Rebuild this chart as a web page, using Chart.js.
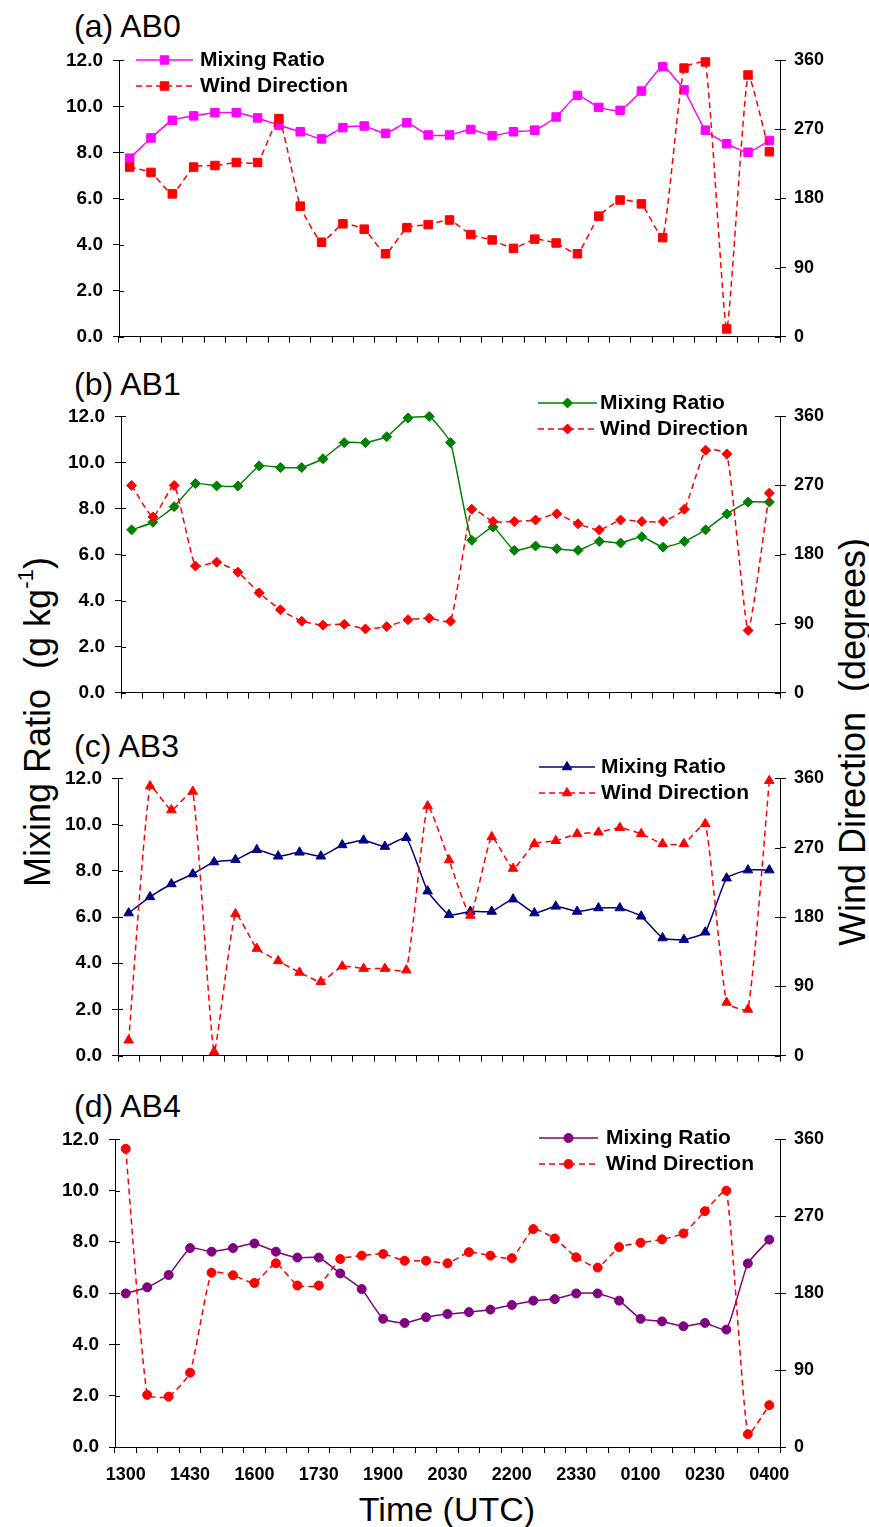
<!DOCTYPE html>
<html>
<head>
<meta charset="utf-8">
<script src="https://cdn.jsdelivr.net/npm/chart.js@4.4.0/dist/chart.umd.min.js"></script>
<style>
body { margin: 0; background: #fff; }
#page { position: relative; width: 869px; height: 1527px; overflow: hidden; font-family: "Liberation Sans", Arial, sans-serif; color: #000; }
#page canvas { position: absolute; left: 0; }
.ptitle { position: absolute; font-size: 32px; line-height: 32px; white-space: nowrap; }
.rtitle { position: absolute; font-size: 36px; line-height: 36px; white-space: nowrap; transform: translate(-50%, -50%) rotate(-90deg); }
.xtitle { position: absolute; font-size: 34px; line-height: 34px; white-space: nowrap; transform: translateX(-50%); }
sup { font-size: 0.62em; vertical-align: 0.75em; line-height: 0; }
</style>
</head>
<body>
<div id="page">
  <div class="ptitle" style="left:74px; top:10px;">(a) AB0</div>
  <div class="ptitle" style="left:74px; top:368px;">(b) AB1</div>
  <div class="ptitle" style="left:74px; top:730px;">(c) AB3</div>
  <div class="ptitle" style="left:74px; top:1090px;">(d) AB4</div>
  <div class="rtitle" style="left:38px; top:722px;">Mixing Ratio&nbsp; (g kg<sup>-1</sup>)</div>
  <div class="rtitle" style="left:853px; top:742px;">Wind Direction&nbsp; (degrees)</div>
  <div class="xtitle" style="left:447px; top:1492px;">Time (UTC)</div>
</div>
<script>
// 时间轴（每30分钟）
const timeLabels = ['1300','1330','1400','1430','1500','1530','1600','1630','1700','1730','1800',
  '1830','1900','1930','2000','2030','2100','2130','2200','2230','2300','2330','0000','0030',
  '0100','0130','0200','0230','0300','0330','0400'];
const xTickLabels = ['1300','1430','1600','1730','1900','2030','2200','2330','0100','0230','0400'];

// (a) AB0
const mixAB0 = [7.75, 8.63, 9.4, 9.59, 9.73, 9.73, 9.5, 9.18, 8.9, 8.59, 9.08, 9.15, 8.83, 9.29, 8.76, 8.76,
  9.0, 8.73, 8.9, 8.97, 9.54, 10.48, 9.96, 9.83, 10.67, 11.73, 10.72, 8.97, 8.38, 8.01, 8.52];
const windAB0 = [221, 214, 186, 221, 223, 227, 227, 284, 170, 123, 147, 140, 108, 142, 146, 152,
  133, 126, 115, 127, 122, 108, 157, 178, 173, 129, 350, 358, 10, 341, 241];

// (b) AB1
const mixAB1 = [7.07, 7.4, 8.08, 9.08, 8.98, 8.98, 9.85, 9.78, 9.78, 10.16, 10.86, 10.86, 11.12, 11.93, 12.0, 10.86,
  6.62, 7.19, 6.18, 6.37, 6.25, 6.18, 6.57, 6.5, 6.77, 6.32, 6.57, 7.07, 7.76, 8.28, 8.28];
const windAB1 = [270, 229, 270, 165, 170, 157, 130, 108, 93, 88, 89, 83, 86, 95, 97, 93,
  239, 223, 223, 225, 233, 220, 212, 225, 223, 223, 239, 316, 311, 81, 260];

// (c) AB3
const mixAB3 = [6.17, 6.87, 7.43, 7.86, 8.38, 8.48, 8.91, 8.63, 8.8, 8.63, 9.12, 9.32, 9.05, 9.43, 7.12, 6.1,
  6.24, 6.24, 6.77, 6.17, 6.46, 6.24, 6.39, 6.39, 6.03, 5.09, 5.02, 5.34, 7.68, 8.03, 8.03];
const windAB3 = [20, 350, 319, 343, 5, 184, 139, 123, 108, 96, 116, 113, 113, 111, 324, 254,
  182, 284, 243, 275, 279, 288, 290, 296, 288, 275, 275, 301, 69, 60, 357];

// (d) AB4
const mixAB4 = [5.99, 6.23, 6.71, 7.76, 7.62, 7.76, 7.94, 7.62, 7.39, 7.39, 6.77, 6.16, 5.0, 4.84, 5.06, 5.19,
  5.26, 5.36, 5.54, 5.71, 5.77, 5.99, 5.99, 5.71, 5.0, 4.9, 4.71, 4.84, 4.58, 7.16, 8.09];
const windAB4 = [349, 61, 59, 87, 204, 201, 192, 215, 189, 189, 220, 224, 226, 218, 218, 215,
  228, 224, 221, 255, 244, 222, 210, 234, 239, 243, 250, 276, 300, 15, 49];

Chart.defaults.font.family = '"Liberation Sans", Arial, sans-serif';
Chart.defaults.color = '#000';

const PAD_TOP = 20;
const RIGHT_W = 89;

// 坐标轴两侧的刻度线（向图内延伸）
const crossTicks = {
  id: 'crossTicks',
  beforeDatasetsDraw(chart) {
    const ctx = chart.ctx;
    const area = chart.chartArea;
    ctx.save();
    ctx.strokeStyle = '#000';
    ctx.lineWidth = 1;
    [['y', area.left, 1], ['y1', area.right, -1]].forEach(([id, ax, dir]) => {
      const s = chart.scales[id];
      s.ticks.forEach(t => {
        const py = Math.round(s.getPixelForValue(t.value)) + 0.5;
        ctx.beginPath();
        ctx.moveTo(ax, py);
        ctx.lineTo(ax + dir * 5, py);
        ctx.stroke();
      });
    });
    ctx.restore();
  }
};

// Excel 风格图例：线段 + 标记 + 文字
const panelLegend = {
  id: 'panelLegend',
  afterDatasetsDraw(chart, args, opts) {
    const ctx = chart.ctx;
    chart.data.datasets.forEach((ds, k) => {
      const y = opts.y + k * opts.dy;
      ctx.save();
      ctx.strokeStyle = ds.borderColor;
      ctx.lineWidth = ds.borderWidth;
      ctx.setLineDash(ds.borderDash || []);
      ctx.beginPath();
      ctx.moveTo(opts.x0, y);
      ctx.lineTo(opts.x1, y);
      ctx.stroke();
      ctx.setLineDash([]);
      ctx.fillStyle = ds.pointBackgroundColor;
      ctx.strokeStyle = ds.pointBorderColor;
      ctx.lineWidth = 1;
      Chart.helpers.drawPoint(ctx, { pointStyle: ds.pointStyle, radius: ds.pointRadius, borderWidth: 1, rotation: 0 },
        (opts.x0 + opts.x1) / 2, y);
      ctx.fillStyle = '#000';
      ctx.font = 'bold 21px "Liberation Sans", Arial, sans-serif';
      ctx.textBaseline = 'middle';
      ctx.textAlign = 'left';
      ctx.fillText(ds.label, opts.tx, y);
      ctx.restore();
    });
  }
};

const panels = [
  { top: 39, left: 119, plotH: 285, xH: 14, mix: mixAB0, wind: windAB0, color: '#FF00FF', marker: 'rect', r: 6,
    legend: { x0: 136, x1: 193, tx: 200, y: 60 }, showX: false },
  { top: 395, left: 121, plotH: 285, xH: 14, mix: mixAB1, wind: windAB1, color: '#008000', marker: 'rectRot', r: 5,
    legend: { x0: 538, x1: 597, tx: 600, y: 403 }, showX: false },
  { top: 757, left: 118, plotH: 286, xH: 14, mix: mixAB3, wind: windAB3, color: '#000080', marker: 'triangle', r: 5.5,
    legend: { x0: 539, x1: 595, tx: 601, y: 767 }, showX: false },
  { top: 1118, left: 115, plotH: 309, xH: 43, mix: mixAB4, wind: windAB4, color: '#800080', marker: 'circle', r: 4.5,
    legend: { x0: 539, x1: 598, tx: 606, y: 1138 }, showX: true }
];

function makePanel(p) {
  const cv = document.createElement('canvas');
  cv.width = 869;
  cv.height = PAD_TOP + p.plotH + p.xH;
  cv.style.top = p.top + 'px';
  document.getElementById('page').appendChild(cv);

  const tickFont = { size: 19, weight: 'bold' };
  const axisGrid = { drawOnChartArea: false, color: '#000', tickLength: 6 };

  new Chart(cv, {
    type: 'line',
    data: {
      labels: timeLabels,
      datasets: [{
        label: 'Mixing Ratio',
        data: p.mix,
        yAxisID: 'y',
        borderColor: p.color,
        backgroundColor: p.color,
        borderWidth: 1.5,
        pointStyle: p.marker,
        pointRadius: p.r,
        pointBackgroundColor: p.color,
        pointBorderColor: p.color,
        pointBorderWidth: 1,
        tension: 0.15,
        clip: false,
        order: 1
      }, {
        label: 'Wind Direction',
        data: p.wind,
        yAxisID: 'y1',
        borderColor: '#FF0000',
        backgroundColor: '#FF0000',
        borderWidth: 1.5,
        borderDash: [6, 4],
        pointStyle: p.marker,
        pointRadius: p.r,
        pointBackgroundColor: '#FF0000',
        pointBorderColor: '#FF0000',
        pointBorderWidth: 1,
        tension: 0.15,
        clip: false,
        order: 0
      }]
    },
    options: {
      responsive: false,
      animation: false,
      devicePixelRatio: 1,
      layout: { padding: { top: PAD_TOP, left: 0, right: 0, bottom: 0 } },
      plugins: {
        legend: { display: false },
        tooltip: { enabled: false },
        panelLegend: { x0: p.legend.x0, x1: p.legend.x1, tx: p.legend.tx, y: p.legend.y - p.top, dy: 26 }
      },
      scales: {
        x: {
          type: 'category',
          offset: true,
          grid: { offset: true, drawOnChartArea: false, color: '#000', tickLength: 6 },
          border: { color: '#000', width: 1 },
          ticks: {
            autoSkip: false,
            maxRotation: 0,
            minRotation: 0,
            padding: 11,
            font: { size: 18, weight: 'bold' },
            callback: function (v) {
              const l = this.getLabelForValue(v);
              return p.showX && xTickLabels.includes(l) ? l : '';
            }
          },
          afterFit: s => { s.height = p.xH; }
        },
        y: {
          position: 'left',
          min: 0,
          max: 12,
          grid: axisGrid,
          border: { color: '#000', width: 1 },
          ticks: { stepSize: 2, padding: 10, font: tickFont, callback: v => v.toFixed(1) },
          afterFit: s => { s.width = p.left; }
        },
        y1: {
          position: 'right',
          min: 0,
          max: 360,
          grid: axisGrid,
          border: { color: '#000', width: 1 },
          ticks: { stepSize: 90, padding: 8, font: { size: 18, weight: 'bold' } },
          afterFit: s => { s.width = RIGHT_W; }
        }
      }
    },
    plugins: [crossTicks, panelLegend]
  });
}

panels.forEach(makePanel);
</script>
</body>
</html>
